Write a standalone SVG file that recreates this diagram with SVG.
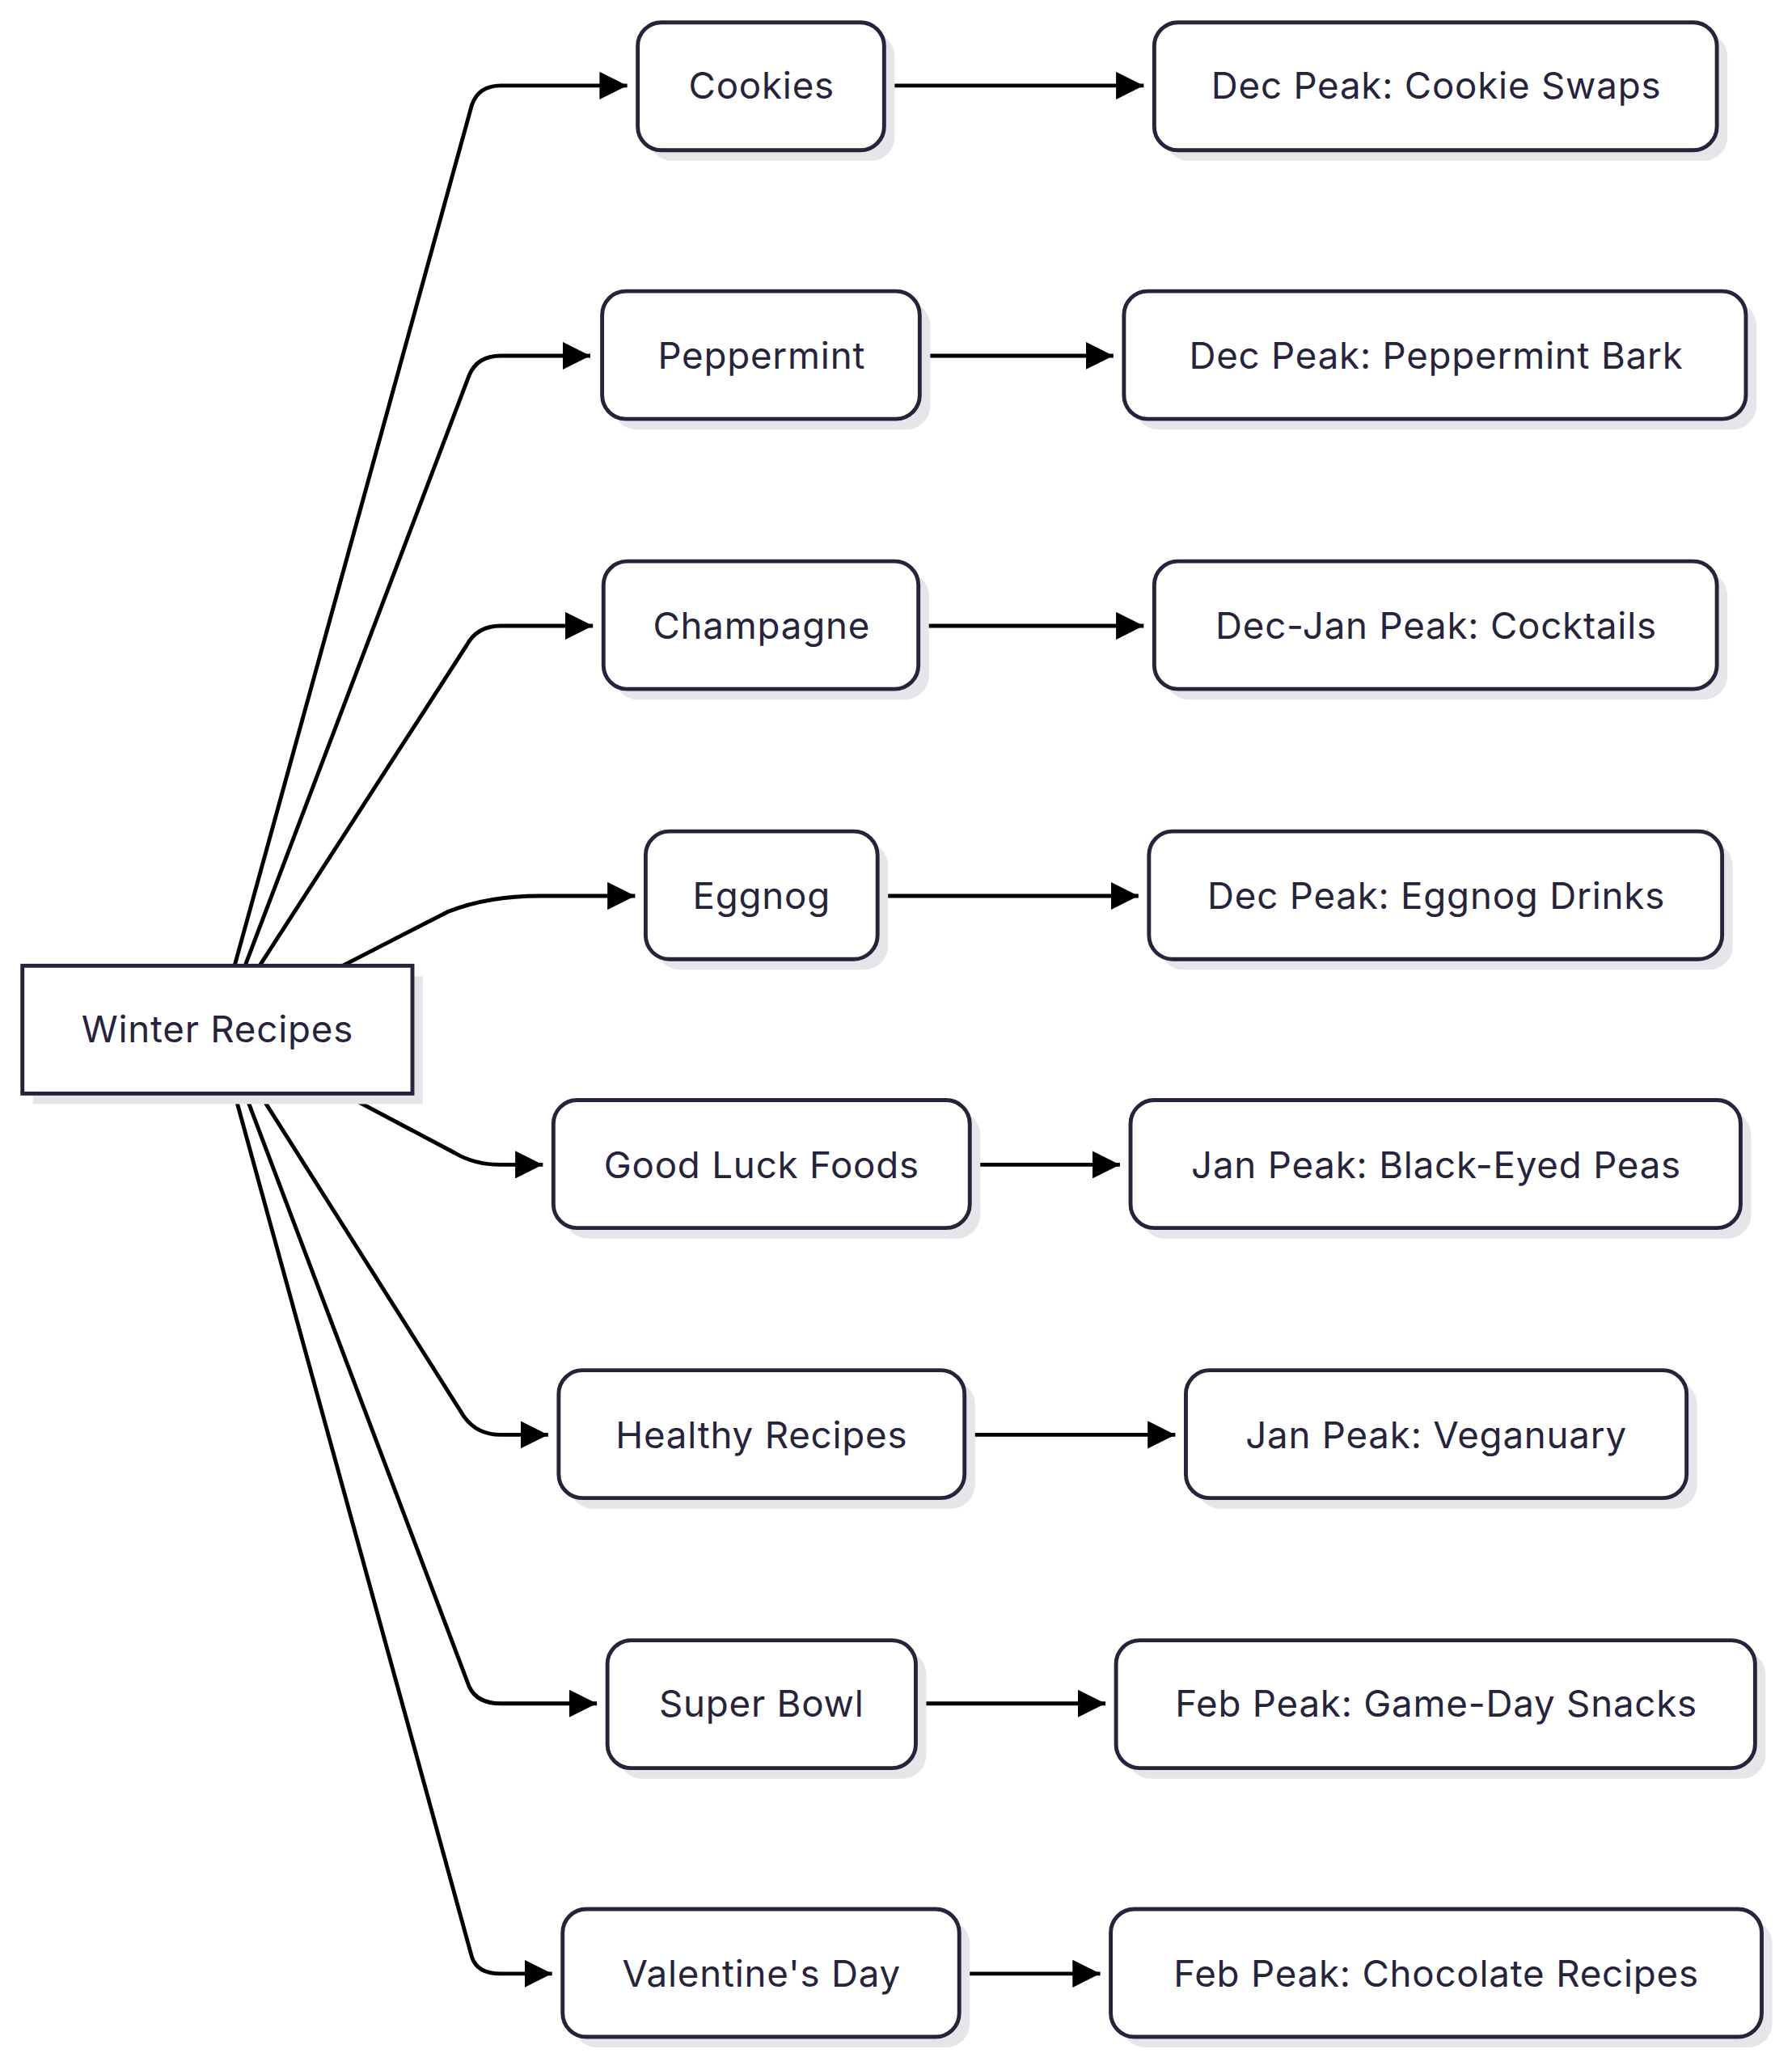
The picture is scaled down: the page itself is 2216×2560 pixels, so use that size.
<svg xmlns="http://www.w3.org/2000/svg" width="2216" height="2560" viewBox="0 0 2216 2560">
<style>
.n{fill:#fff;stroke:#26233a;stroke-width:3}
.s{fill:#e6e6ea}
.t{font-family:Inter,"Noto Sans",sans-serif;font-size:28px;fill:#26233a;text-anchor:middle;dominant-baseline:central;letter-spacing:0.5px}
.e{fill:none;stroke:#000;stroke-width:3;marker-end:url(#a)}
</style>
<defs><marker id="a" viewBox="0 0 10 10" refX="10" refY="5" markerWidth="7" markerHeight="7" orient="auto" markerUnits="strokeWidth"><path d="M0,0L10,5L0,10z" fill="#000"/></marker></defs>
<rect width="2216" height="2560" fill="#fff"/>
<g transform="scale(1.6294)">
<g id="connectors">
<path class="e" d="M178,733 L358,80 Q363,65 380,65 L476,65"/>
<path class="e" d="M186,733 L356,285 Q362,270 380,270 L448,270"/>
<path class="e" d="M197,733 L354,490 Q362,475 380,475 L450,475"/>
<path class="e" d="M260,733 L340,692 Q370,680 410,680 L482,680"/>
<path class="e" d="M260,830 L345,875 Q360,884 380,884 L412,884"/>
<path class="e" d="M197,830 L352,1075 Q362,1089 380,1089 L416,1089"/>
<path class="e" d="M186,830 L356,1280 Q362,1293 380,1293 L453,1293"/>
<path class="e" d="M178,830 L358,1485 Q362,1498 380,1498 L419,1498"/>
<path class="e" d="M673,65 L868,65"/>
<path class="e" d="M700,270 L845,270"/>
<path class="e" d="M699,475 L868,475"/>
<path class="e" d="M668,680 L864,680"/>
<path class="e" d="M738,884 L850,884"/>
<path class="e" d="M734,1089 L892,1089"/>
<path class="e" d="M697,1293 L839,1293"/>
<path class="e" d="M730,1498 L835,1498"/>
</g>
<g id="winter"><rect class="s" x="25" y="741" width="296" height="97"/><rect class="n" x="17" y="733" width="296" height="97"/><text class="t" x="165" y="781">Winter Recipes</text></g>
<g id="cookies"><rect class="s" x="492" y="25" width="187" height="97" rx="18"/><rect class="n" x="484" y="17" width="187" height="97" rx="18"/><text class="t" x="578" y="65">Cookies</text></g>
<g id="cookies2"><rect class="s" x="884" y="25" width="427" height="97" rx="18"/><rect class="n" x="876" y="17" width="427" height="97" rx="18"/><text class="t" x="1090" y="65">Dec Peak: Cookie Swaps</text></g>
<g id="pepper"><rect class="s" x="465" y="229" width="241" height="97" rx="18"/><rect class="n" x="457" y="221" width="241" height="97" rx="18"/><text class="t" x="578" y="270">Peppermint</text></g>
<g id="pepper2"><rect class="s" x="861" y="229" width="472" height="97" rx="18"/><rect class="n" x="853" y="221" width="472" height="97" rx="18"/><text class="t" x="1090" y="270">Dec Peak: Peppermint Bark</text></g>
<g id="champ"><rect class="s" x="466" y="434" width="239" height="97" rx="18"/><rect class="n" x="458" y="426" width="239" height="97" rx="18"/><text class="t" x="578" y="475">Champagne</text></g>
<g id="champ2"><rect class="s" x="884" y="434" width="427" height="97" rx="18"/><rect class="n" x="876" y="426" width="427" height="97" rx="18"/><text class="t" x="1090" y="475">Dec-Jan Peak: Cocktails</text></g>
<g id="egg"><rect class="s" x="498" y="639" width="176" height="97" rx="18"/><rect class="n" x="490" y="631" width="176" height="97" rx="18"/><text class="t" x="578" y="680">Eggnog</text></g>
<g id="egg2"><rect class="s" x="880" y="639" width="435" height="97" rx="18"/><rect class="n" x="872" y="631" width="435" height="97" rx="18"/><text class="t" x="1090" y="680">Dec Peak: Eggnog Drinks</text></g>
<g id="luck"><rect class="s" x="428" y="843" width="316" height="97" rx="18"/><rect class="n" x="420" y="835" width="316" height="97" rx="18"/><text class="t" x="578" y="884">Good Luck Foods</text></g>
<g id="luck2"><rect class="s" x="866" y="843" width="463" height="97" rx="18"/><rect class="n" x="858" y="835" width="463" height="97" rx="18"/><text class="t" x="1090" y="884">Jan Peak: Black-Eyed Peas</text></g>
<g id="healthy"><rect class="s" x="432" y="1048" width="308" height="97" rx="18"/><rect class="n" x="424" y="1040" width="308" height="97" rx="18"/><text class="t" x="578" y="1089">Healthy Recipes</text></g>
<g id="healthy2"><rect class="s" x="908" y="1048" width="380" height="97" rx="18"/><rect class="n" x="900" y="1040" width="380" height="97" rx="18"/><text class="t" x="1090" y="1089">Jan Peak: Veganuary</text></g>
<g id="bowl"><rect class="s" x="469" y="1253" width="234" height="97" rx="18"/><rect class="n" x="461" y="1245" width="234" height="97" rx="18"/><text class="t" x="578" y="1293">Super Bowl</text></g>
<g id="bowl2"><rect class="s" x="855" y="1253" width="485" height="97" rx="18"/><rect class="n" x="847" y="1245" width="485" height="97" rx="18"/><text class="t" x="1090" y="1293">Feb Peak: Game-Day Snacks</text></g>
<g id="val"><rect class="s" x="435" y="1457" width="301" height="97" rx="18"/><rect class="n" x="427" y="1449" width="301" height="97" rx="18"/><text class="t" x="578" y="1498">Valentine's Day</text></g>
<g id="val2"><rect class="s" x="851" y="1457" width="494" height="97" rx="18"/><rect class="n" x="843" y="1449" width="494" height="97" rx="18"/><text class="t" x="1090" y="1498">Feb Peak: Chocolate Recipes</text></g>
</g>
</svg>
